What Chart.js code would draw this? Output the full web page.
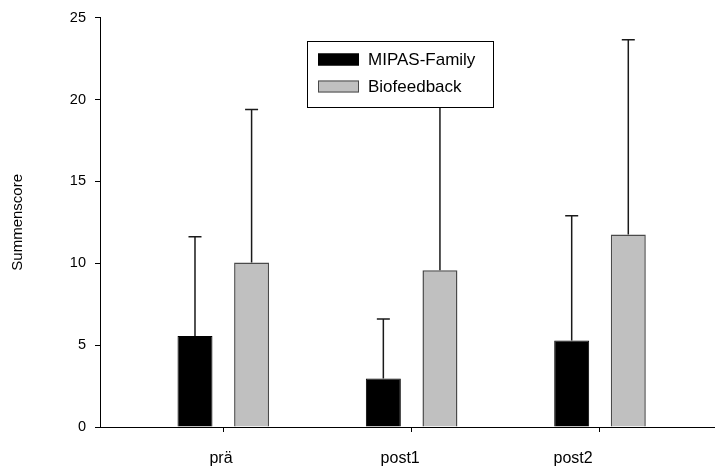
<!DOCTYPE html>
<html>
<head>
<meta charset="utf-8">
<script src="https://cdn.jsdelivr.net/npm/chart.js@4.4.1/dist/chart.umd.min.js"></script>
<style>
  html, body { margin: 0; padding: 0; background: #fff; }
  #wrap { width: 715px; height: 469px; }
</style>
</head>
<body>
<div id="wrap"><canvas id="chart" width="715" height="469"></canvas></div>
<script>
// Data
const categories = ["prä", "post1", "post2"];
const mipasValues = [5.56, 2.97, 5.29];
const mipasSD = [6.06, 3.62, 7.61];
const bioValues = [10.05, 9.58, 11.76];
const bioSD = [9.35, 11.9, 11.9];
const yTicks = [0, 5, 10, 15, 20, 25];

const FONT = "'Liberation Sans', Arial, sans-serif";

function toPoints(values) {
  return values.map(function(v, i) { return { x: i + 1, y: v }; });
}

// upward error bars with a small cap
const errorBars = {
  id: 'errorBars',
  afterDatasetsDraw(chart) {
    const ctx = chart.ctx;
    const yScale = chart.scales.y;
    chart.data.datasets.forEach(function(ds, di) {
      const meta = chart.getDatasetMeta(di);
      meta.data.forEach(function(bar, i) {
        const top = yScale.getPixelForValue(ds.data[i].y + ds.sd[i]);
        ctx.save();
        ctx.strokeStyle = '#1a1a1a';
        ctx.lineWidth = 1.5;
        ctx.beginPath();
        ctx.moveTo(bar.x, bar.y);
        ctx.lineTo(bar.x, top);
        ctx.moveTo(bar.x - 6.5, top);
        ctx.lineTo(bar.x + 6.5, top);
        ctx.stroke();
        ctx.restore();
      });
    });
  }
};

// boxed legend inside the plot
const boxLegend = {
  id: 'boxLegend',
  afterDraw(chart) {
    const ctx = chart.ctx;
    ctx.save();
    ctx.fillStyle = '#fff';
    ctx.fillRect(307, 41, 187, 67);
    ctx.strokeStyle = '#000';
    ctx.lineWidth = 1;
    ctx.strokeRect(307.5, 41.5, 186, 66);
    chart.data.datasets.forEach(function(ds, i) {
      const y = 53.5 + i * 27;
      ctx.fillStyle = ds.backgroundColor;
      ctx.fillRect(318, y, 41, 12);
      ctx.strokeStyle = ds.borderColor;
      ctx.lineWidth = 1;
      ctx.strokeRect(318.5, y + 0.5, 40, 11);
      ctx.fillStyle = '#000';
      ctx.font = '17px ' + FONT;
      ctx.textBaseline = 'middle';
      ctx.textAlign = 'left';
      ctx.fillText(ds.label, 368, y + 6.5);
    });
    ctx.restore();
  }
};

const barOpts = {
  categoryPercentage: 0.601,
  barPercentage: 0.618
};

new Chart(document.getElementById('chart').getContext('2d'), {
  type: 'bar',
  data: {
    datasets: [
      Object.assign({
        label: 'MIPAS-Family',
        data: toPoints(mipasValues),
        sd: mipasSD,
        backgroundColor: '#000000',
        borderColor: '#000000',
        borderWidth: 1
      }, barOpts),
      Object.assign({
        label: 'Biofeedback',
        data: toPoints(bioValues),
        sd: bioSD,
        backgroundColor: '#c0c0c0',
        borderColor: '#4a4a4a',
        borderWidth: 1.5
      }, barOpts)
    ]
  },
  options: {
    responsive: false,
    animation: false,
    layout: { padding: { top: 17, right: 0, left: 0, bottom: 0 } },
    plugins: {
      legend: { display: false },
      tooltip: { enabled: false }
    },
    scales: {
      x: {
        type: 'linear',
        position: 'bottom',
        weight: 0,
        offset: false,
        min: 0.3454,
        max: 3.6106,
        afterBuildTicks: function(scale) {
          scale.ticks = categories.map(function(c, i) { return { value: i + 1 }; });
        },
        afterFit: function(scale) { scale.height = 5; },
        ticks: { display: false, autoSkip: false },
        grid: { offset: false, drawOnChartArea: false, drawTicks: true, tickLength: 5, color: '#000', lineWidth: 1 },
        border: { display: true, color: '#000', width: 1 }
      },
      xl: {
        type: 'linear',
        position: 'bottom',
        weight: 1,
        offset: false,
        min: 0.3454,
        max: 3.6106,
        afterBuildTicks: function(scale) {
          // label anchors as placed in the original figure
          scale.ticks = [0.988, 1.939, 2.857].map(function(v) { return { value: v }; });
        },
        afterFit: function(scale) { scale.height = 37; },
        ticks: {
          autoSkip: false,
          maxRotation: 0,
          padding: 17,
          color: '#000',
          font: { family: FONT, size: 16 },
          callback: function(value, index) { return categories[index]; }
        },
        grid: { offset: false, display: false, drawTicks: false },
        border: { display: false }
      },
      y: {
        min: 0,
        max: 25,
        afterBuildTicks: function(scale) {
          scale.ticks = yTicks.map(function(v) { return { value: v }; });
        },
        afterFit: function(scale) { scale.width = 100; },
        ticks: {
          padding: 9,
          color: '#000',
          font: { family: FONT, size: 14.5 }
        },
        grid: { drawOnChartArea: false, drawTicks: true, tickLength: 5, color: '#000', lineWidth: 1 },
        border: { display: true, color: '#000', width: 1 },
        title: {
          display: true,
          text: 'Summenscore',
          color: '#000',
          font: { family: FONT, size: 15 },
          padding: { top: 9, bottom: 0 }
        }
      }
    }
  },
  plugins: [errorBars, boxLegend]
});
</script>
</body>
</html>
